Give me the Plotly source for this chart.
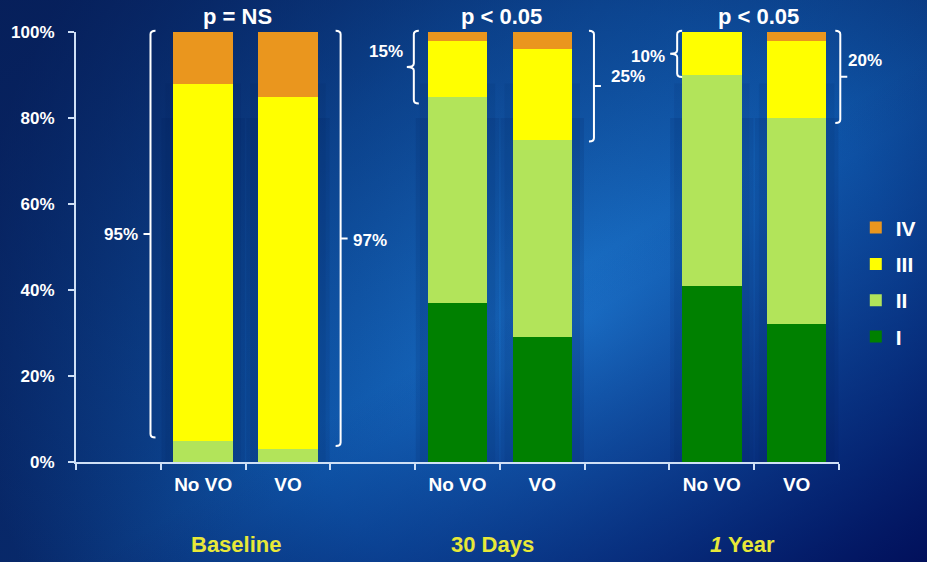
import base64
import plotly.graph_objects as go

# Functional class distribution (%) per bar, stacked bottom (I) to top (IV)
bar_pos = [1, 2, 4, 5, 7, 8]
bar_names = ["No VO", "VO", "No VO", "VO", "No VO", "VO"]
class_I = [0, 0, 37, 29, 41, 32]
class_II = [5, 3, 48, 46, 49, 48]
class_III = [83, 82, 13, 21, 10, 18]
class_IV = [12, 15, 2, 4, 0, 2]

group_pos = [1.5, 4.5, 7.5]
group_names = ["Baseline", "30 Days", "<i>1</i> Year"]
p_values = ["p = NS", "p < 0.05", "p < 0.05"]

y_ticks = [0, 20, 40, 60, 80, 100]
y_tick_text = ["0%", "20%", "40%", "60%", "80%", "100%"]

series = [
    ("I", class_I, "#008000"),
    ("II", class_II, "#B2E45A"),
    ("III", class_III, "#FFFF00"),
    ("IV", class_IV, "#EA961E"),
]

W, H = 927, 562
ML, MR, MT, MB = 76, 88, 32, 100
PW, PH = W - ML - MR, H - MT - MB
X0, X1 = -0.5, 8.5
PX_X = PW / (X1 - X0)      # pixels per x unit
PX_Y = PH / 100.0          # pixels per percent
BAR_W = 0.7
FONT = "Liberation Sans, Arial, sans-serif"
AXIS_COL = "#cfe0f6"


def px(xv):
    """x data value -> paper fraction (so marks outside the axis range are not clipped)."""
    return (xv - X0) / (X1 - X0)


def py(yv):
    return yv / 100.0


fig = go.Figure()
for k, (name, vals, col) in enumerate(series):
    fig.add_trace(go.Bar(
        x=bar_pos, y=vals, name=name, width=BAR_W,
        marker=dict(color=col, line=dict(width=0)),
        legendgroup=name, legendrank=len(series) - k, hoverinfo="y+name",
    ))

# Background gradient
svg = f'''<svg xmlns="http://www.w3.org/2000/svg" width="{W}" height="{H}" viewBox="0 0 {W} {H}" preserveAspectRatio="none">
<defs>
<radialGradient id="g" cx="590" cy="320" r="620" gradientUnits="userSpaceOnUse">
<stop offset="0" stop-color="#1b74cc"/>
<stop offset="0.5" stop-color="#0f58ac"/>
<stop offset="1" stop-color="#082a6c"/>
</radialGradient>
<linearGradient id="d" x1="0" y1="0" x2="1" y2="1">
<stop offset="0.55" stop-color="#000a55" stop-opacity="0"/>
<stop offset="1" stop-color="#000a55" stop-opacity="0.9"/>
</linearGradient>
<linearGradient id="t" x1="0" y1="0" x2="0.6" y2="0.6">
<stop offset="0" stop-color="#061c55" stop-opacity="0.75"/>
<stop offset="1" stop-color="#061c55" stop-opacity="0"/>
</linearGradient>
</defs>
<rect width="{W}" height="{H}" fill="url(#g)"/>
<rect width="{W}" height="{H}" fill="url(#t)"/>
<rect width="{W}" height="{H}" fill="url(#d)"/>
</svg>'''
bg_src = "data:image/svg+xml;base64," + base64.b64encode(svg.encode()).decode()

shapes = []
# soft dark bands flanking each bar
for xp in bar_pos:
    for pad_px, top, alpha in [(12, 80, 0.12), (8, 88, 0.08)]:
        pad = pad_px / PX_X
        shapes.append(dict(type="rect", xref="x", yref="y", layer="below",
                           x0=xp - BAR_W / 2 - pad, x1=xp + BAR_W / 2 + pad, y0=0, y1=top,
                           fillcolor=f"rgba(0,25,80,{alpha})", line=dict(width=0)))


def bracket(xp, base, side, gap_px, pad_px, curly):
    """Bracket around classes III+IV of one bar, in paper coords; returns (path, tick_x, tick_y)."""
    edge = xp - BAR_W / 2 if side == "left" else xp + BAR_W / 2
    sgn = -1 if side == "left" else 1
    x = px(edge + sgn * gap_px / PX_X)
    y1 = py(100 + 0.3)
    y0 = py(base - pad_px / PX_Y)
    ym = (y0 + y1) / 2
    s = -sgn * 5 / PW           # serif toward the bar
    r = 3.5 / PH
    t = sgn * 7 / PW            # middle tick away from the bar
    p = f"M {x + s} {y1} Q {x} {y1} {x} {y1 - r} "
    if curly:
        p += (f"L {x} {ym + r} Q {x} {ym} {x + t} {ym} "
              f"Q {x} {ym} {x} {ym - r} ")
    else:
        p += f"L {x} {ym} L {x + t} {ym} M {x} {ym} "
    p += f"L {x} {y0 + r} Q {x} {y0} {x + s} {y0}"
    return p, x + t, ym


# per bar: side, gap from bar edge (px), extra length below (px), curly, label shift (px)
bracket_style = [
    ("left", 23, -3, False, (-3, 0)),
    ("right", 23, -3, False, (3, -2)),
    ("left", 14, 7, True, (-2, 16)),
    ("right", 22, 2, False, (8, 10)),
    ("left", 5, 2, True, (-3, -3)),
    ("right", 14, 5, False, (-1, 16)),
]

annotations = []
for i, (side, gap, pad, curly, (dx, dy)) in enumerate(bracket_style):
    base = class_I[i] + class_II[i]
    path, tx, ty = bracket(bar_pos[i], base, side, gap, pad, curly)
    shapes.append(dict(type="path", xref="paper", yref="paper", path=path,
                       line=dict(color="white", width=2)))
    annotations.append(dict(
        x=tx, y=ty, xref="paper", yref="paper", showarrow=False,
        text=f"{class_III[i] + class_IV[i]}%",
        xanchor="right" if side == "left" else "left", yanchor="middle",
        xshift=dx, yshift=dy,
        font=dict(family=FONT, size=17, color="white", weight="bold"),
    ))

group_shift = [-9, -7, -12]
p_shift = [-8, 2, 4]
for gx, gname, pv, gs, ps in zip(group_pos, group_names, p_values, group_shift, p_shift):
    annotations.append(dict(
        x=gx, y=0, xref="x", yref="paper", showarrow=False, text=gname,
        xanchor="center", yanchor="middle", yshift=-82, xshift=gs,
        font=dict(family=FONT, size=22, color="#E8E838", weight="bold"),
    ))
    annotations.append(dict(
        x=gx, y=1, xref="x", yref="paper", showarrow=False, text=pv,
        xanchor="center", yanchor="middle", yshift=16, xshift=ps,
        font=dict(family=FONT, size=22, color="white", weight="bold"),
    ))

fig.update_layout(
    width=W, height=H,
    margin=dict(l=ML, r=MR, t=MT, b=MB, pad=0, autoexpand=False),
    barmode="stack",
    paper_bgcolor="#0a3c8c", plot_bgcolor="rgba(0,0,0,0)",
    font=dict(family=FONT, color="white"),
    images=[dict(source=bg_src, xref="paper", yref="paper",
                 x=-ML / PW, y=1 + MT / PH, sizex=W / PW, sizey=H / PH,
                 xanchor="left", yanchor="top", sizing="stretch", layer="below")],
    shapes=shapes,
    annotations=annotations,
    showlegend=True,
    legend=dict(
        x=1.022, y=0.592, xanchor="left", yanchor="top",
        traceorder="grouped", tracegroupgap=6,
        bgcolor="rgba(0,0,0,0)", borderwidth=0,
        font=dict(family=FONT, size=21, color="white", weight="bold"),
        itemclick=False, itemdoubleclick=False,
    ),
    xaxis=dict(
        range=[X0, X1], tickmode="array", tickvals=bar_pos, ticktext=bar_names,
        ticks="", showgrid=False, zeroline=False,
        showline=True, linecolor=AXIS_COL, linewidth=2,
        ticklabelstandoff=4,
        tickfont=dict(family=FONT, size=19, color="white", weight="bold"),
        minor=dict(tickmode="array", tickvals=[X0 + k for k in range(10)],
                   ticks="outside", ticklen=6, tickwidth=1.5, tickcolor=AXIS_COL,
                   showgrid=False),
    ),
    yaxis=dict(
        range=[0, 100], tickmode="array", tickvals=y_ticks, ticktext=y_tick_text,
        ticks="outside", ticklen=6, tickwidth=1.5, tickcolor=AXIS_COL,
        showgrid=False, zeroline=False,
        showline=True, linecolor=AXIS_COL, linewidth=2,
        ticklabelstandoff=10,
        tickfont=dict(family=FONT, size=17, color="white", weight="bold"),
    ),
)

fig.write_html("out.html")
